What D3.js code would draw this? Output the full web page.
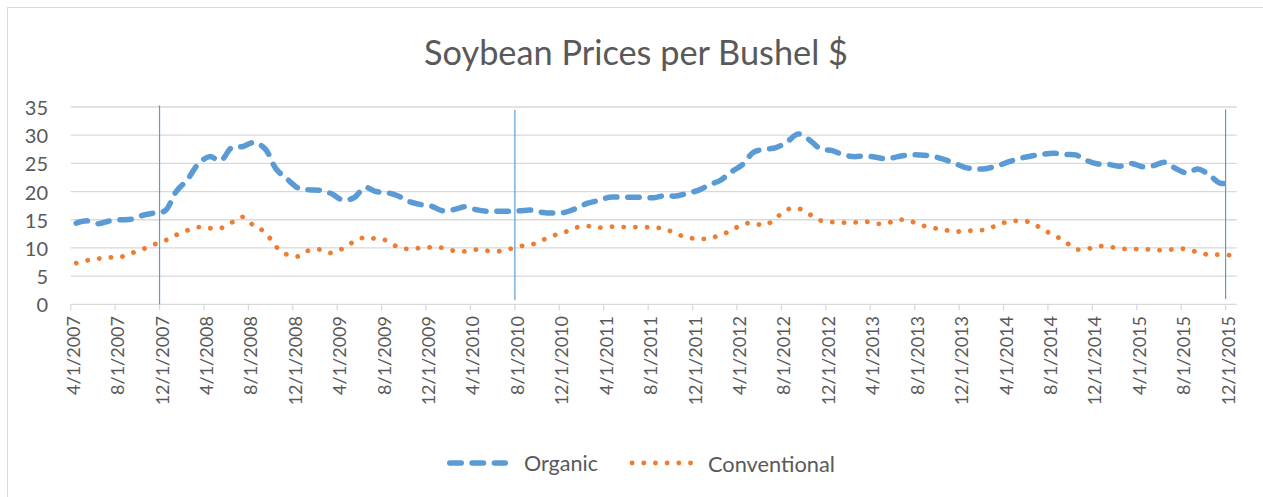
<!DOCTYPE html>
<html>
<head>
<meta charset="utf-8">
<script src="https://cdn.jsdelivr.net/npm/d3@7"></script>
<style>
  body { margin: 0; background: #fff; }
  text { font-family: Lato, "Open Sans", sans-serif; fill: #595959; }
</style>
</head>
<body>
<svg id="chart" width="1263" height="497"></svg>
<script>
// monthly prices, 4/1/2007 .. 12/1/2015 ($ per bushel)
var organic = [
  14.4, 14.8, 14.3, 14.8, 15.0, 15.1, 15.8, 16.2, 16.6, 20.0, 22.1, 24.9,
  26.2, 25.5, 27.8, 28.0, 28.7, 27.6, 24.0, 22.2, 20.6, 20.3, 20.2, 19.6,
  18.5, 18.9, 20.7, 20.0, 19.8, 19.2, 18.2, 17.7, 17.4, 16.6, 16.8, 17.3,
  16.8, 16.5, 16.5, 16.5, 16.6, 16.7, 16.3, 16.2, 16.3, 17.0, 17.9, 18.4,
  19.0, 19.0, 19.0, 19.0, 18.9, 19.3, 19.2, 19.7, 20.2, 21.2, 22.0, 23.5,
  24.8, 27.0, 27.5, 27.8, 28.8, 30.2, 29.2, 27.6, 27.3, 26.6, 26.2, 26.3,
  26.1, 25.8, 26.2, 26.5, 26.5, 26.3, 25.8, 25.1, 24.3, 24.0, 24.1, 24.6,
  25.3, 25.9, 26.3, 26.6, 26.8, 26.6, 26.5, 25.5, 24.9, 24.8, 24.5, 25.0,
  24.4, 24.6, 25.2, 24.1, 23.3, 24.0, 23.0, 21.5, 21.5
];
var conventional = [
  7.3, 7.8, 8.1, 8.3, 8.4, 9.1, 9.8, 10.6, 11.3, 12.3, 13.1, 13.7,
  13.5, 13.5, 14.5, 15.5, 13.9, 12.8, 10.2, 8.8, 8.5, 9.6, 9.7, 9.1,
  9.9, 11.1, 11.9, 11.6, 11.3, 10.1, 9.8, 10.0, 10.1, 10.0, 9.5, 9.4,
  9.7, 9.5, 9.4, 9.8, 10.3, 10.6, 11.4, 12.2, 12.8, 13.6, 13.9, 13.6,
  13.8, 13.7, 13.7, 13.7, 13.6, 13.4, 12.5, 11.9, 11.6, 11.7, 12.3, 13.1,
  14.2, 14.4, 14.0, 15.3, 16.8, 17.0, 16.0, 14.9, 14.6, 14.5, 14.5, 14.7,
  14.3, 14.4, 15.0, 14.8, 14.1, 13.6, 13.3, 12.9, 13.0, 13.1, 13.3, 14.1,
  14.7, 14.8, 14.5, 13.3, 12.3, 11.2, 9.8, 9.8, 10.3, 10.2, 9.9, 9.8,
  9.8, 9.7, 9.6, 9.8, 9.8, 9.2, 8.8, 8.8, 8.7
];
var seriesNames = ["Organic", "Conventional"];
var yTicks = [0, 5, 10, 15, 20, 25, 30, 35];
var chartTitle = "Soybean Prices per Bushel $";
// vertical marker lines drawn on the chart
var markerDates = ["12/1/2007", "8/1/2010", "12/1/2015"];
var markerTop = [35.3, 34.5, 34.6];
var markerBottom = [0, 0.7, 0.9];

var svg = d3.select("#chart");
var fmt = d3.timeFormat("%-m/%-d/%Y");
var months = d3.timeMonth.range(new Date(2007, 3, 1), new Date(2016, 0, 1)).map(fmt);

var x = d3.scaleBand().domain(months).range([70.7, 1236.7]).padding(0);
var y = d3.scaleLinear().domain([0, 35]).range([304.3, 107]);
var bw = x.bandwidth();

function fitText(sel, target) {
  var w = sel.node().getComputedTextLength();
  var fs = parseFloat(sel.style("font-size"));
  sel.style("font-size", (fs * target / w) + "px");
}

// chart frame
svg.append("rect")
  .attr("x", 7.5).attr("y", 7.5)
  .attr("width", 1262).attr("height", 495)
  .attr("fill", "none").attr("stroke", "#d9d9d9").attr("stroke-width", 1);

// title
var t = svg.append("text")
  .attr("x", 636).attr("y", 65)
  .attr("text-anchor", "middle")
  .style("font-size", "30px")
  .text(chartTitle);
fitText(t, 424);

// gridlines
svg.append("g").selectAll("line")
  .data(yTicks)
  .enter().append("line")
  .attr("x1", 70.7).attr("x2", 1236.7)
  .attr("y1", function(d) { return y(d); })
  .attr("y2", function(d) { return y(d); })
  .attr("stroke", "#d9d9d9").attr("stroke-width", 1.3);

// y labels
svg.append("g").selectAll("text")
  .data(yTicks)
  .enter().append("text")
  .attr("x", 48).attr("y", function(d) { return y(d); })
  .attr("text-anchor", "end")
  .attr("dominant-baseline", "central")
  .style("font-size", "20px")
  .text(function(d) { return d; });

// x ticks and labels, every 4 months
var labelMonths = months.filter(function(d, i) { return i % 4 === 0; });
svg.append("g").selectAll("line")
  .data(labelMonths)
  .enter().append("line")
  .attr("x1", function(d) { return x(d); })
  .attr("x2", function(d) { return x(d); })
  .attr("y1", y(0)).attr("y2", y(0) + 6)
  .attr("stroke", "#d9d9d9").attr("stroke-width", 1.3);

svg.append("g").selectAll("text")
  .data(labelMonths)
  .enter().append("text")
  .attr("transform", function(d) { return "translate(" + (x(d) + 2) + ",316) rotate(-90)"; })
  .attr("text-anchor", "end")
  .attr("dominant-baseline", "central")
  .style("font-size", "18px")
  .text(function(d) { return d; });

// marker lines
svg.append("g").selectAll("line")
  .data(markerDates)
  .enter().append("line")
  .attr("x1", function(d) { return x(d); })
  .attr("x2", function(d) { return x(d); })
  .attr("y1", function(d, i) { return y(markerTop[i]); })
  .attr("y2", function(d, i) { return y(markerBottom[i]); })
  .attr("stroke", "#5b9bd5").attr("stroke-width", 1.2);

// series
var line = d3.line()
  .x(function(d, i) { return x(months[i]) + bw / 2; })
  .y(function(d) { return y(d); })
  .curve(d3.curveCatmullRom.alpha(0.5));

var styles = [
  {color: "#5b9bd5", width: 5.5, dash: "11.5 10.8"},
  {color: "#ed7d31", width: 4.8, dash: "0.1 11.6"}
];

[organic, conventional].forEach(function(s, k) {
  svg.append("path")
    .datum(s)
    .attr("d", line)
    .attr("fill", "none")
    .attr("stroke", styles[k].color)
    .attr("stroke-width", styles[k].width)
    .attr("stroke-linecap", "round")
    .attr("stroke-dasharray", styles[k].dash);
});

// legend
var legendX = [449.75, 632];
var legendW = [55.5, 60];
var textX = [524, 708];
var textW = [74, 127];
seriesNames.forEach(function(name, k) {
  svg.append("line")
    .attr("x1", legendX[k]).attr("x2", legendX[k] + legendW[k])
    .attr("y1", 463).attr("y2", 463)
    .attr("stroke", styles[k].color)
    .attr("stroke-width", styles[k].width)
    .attr("stroke-linecap", "round")
    .attr("stroke-dasharray", styles[k].dash);
  var lt = svg.append("text")
    .attr("x", textX[k]).attr("y", 463)
    .attr("dominant-baseline", "central")
    .style("font-size", "19px")
    .text(name);
  fitText(lt, textW[k]);
});
</script>
</body>
</html>
